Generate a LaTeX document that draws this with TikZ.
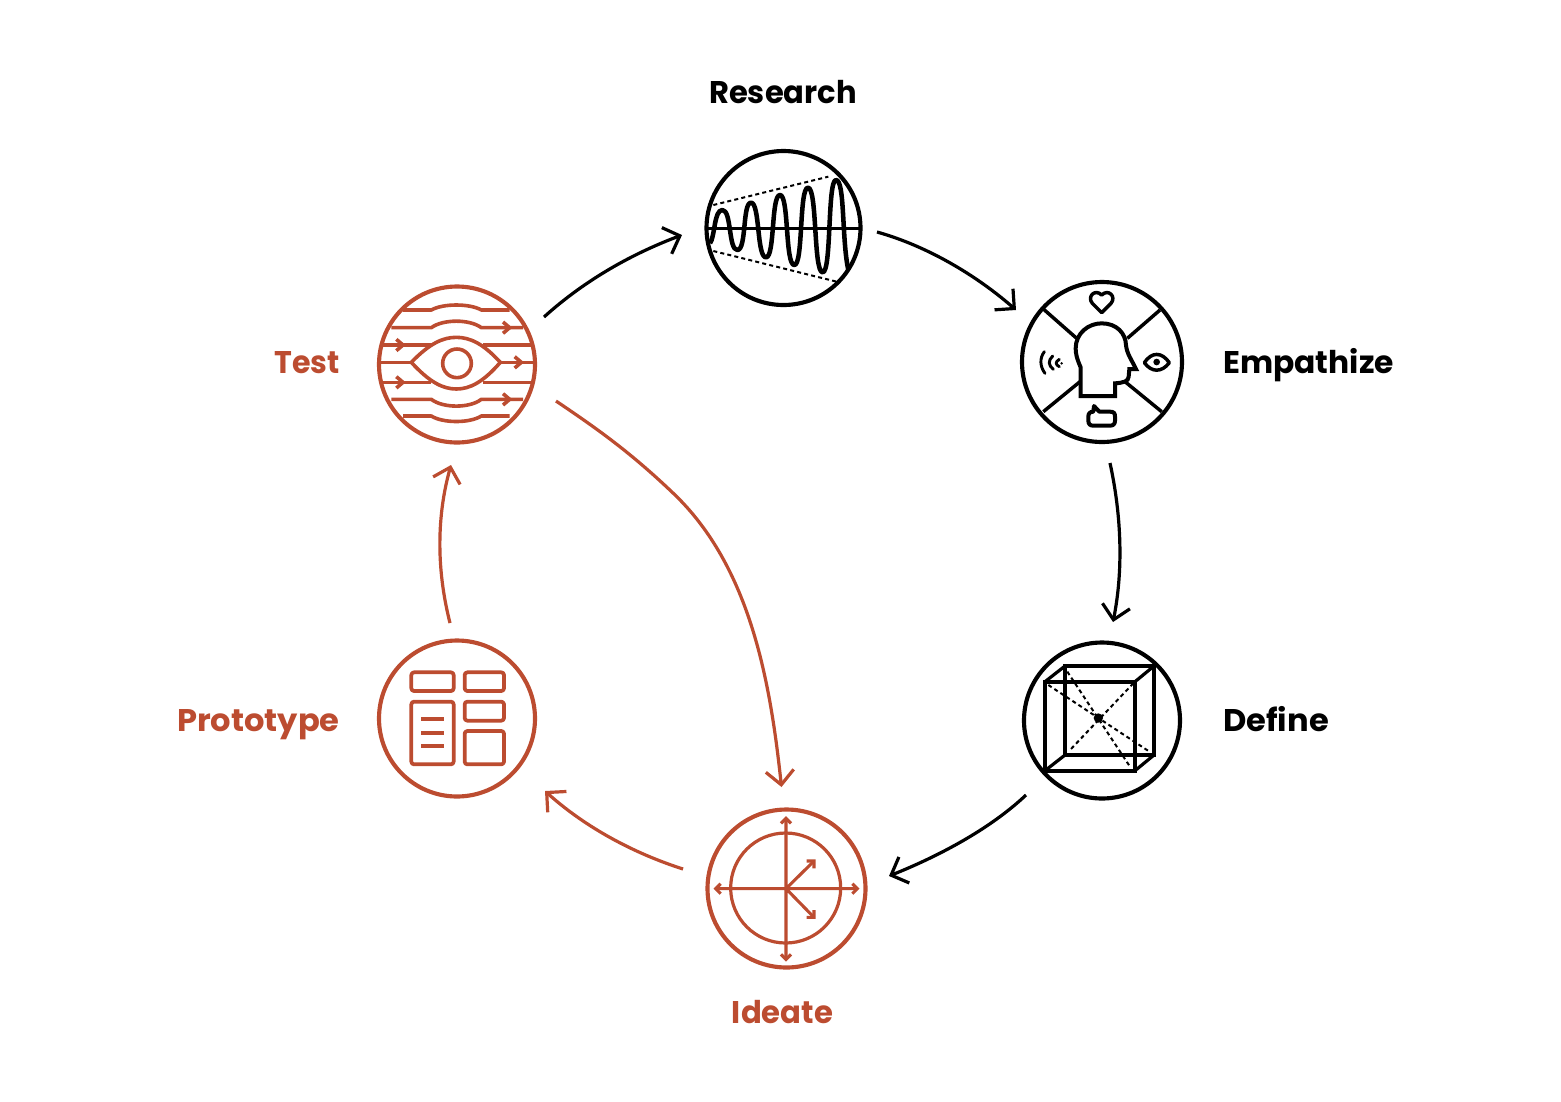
\documentclass[tikz,border=0pt]{standalone}
\usepackage{fontspec}
\usepackage{graphicx}
\setmainfont{Poppins}
\usetikzlibrary{arrows.meta}
\definecolor{acc}{HTML}{BC4C30}
\tikzset{
  x=.75pt,y=-.75pt,
  ring/.style={circle,draw,line width=3.1pt,inner sep=0pt,minimum size=#1*1.5pt},
  lbl/.style={font=\bfseries\fontsize{23.5}{28}\selectfont,inner sep=0pt},
  conn/.style={line width=2.4pt,-{Straight Barb[length=10.5pt,width=21pt,line width=2.4pt]}},
  icon/.style={shift={#1},x=.25pt,y=-.25pt,line join=round},
  ico/.style={line width=2.6pt},
  thin dash/.style={line width=1.5pt,dash pattern=on 3pt off 2.4pt},
}
\begin{document}
\begin{tikzpicture}
\useasboundingbox (0,0) rectangle (1561,1101);
% nodes
\node[ring=77] (research) at (783.5,228) {};
\node[ring=80] (empathize) at (1102,362) {};
\node[ring=78] (define) at (1102,720.5) {};
\node[ring=79,draw=acc] (ideate) at (786.5,888.5) {};
\node[ring=78,draw=acc] (prototype) at (457,718.5) {};
\node[ring=78,draw=acc] (test) at (457,364.5) {};
% labels
\node[lbl,anchor=base] (lresearch) at (783,103) {\scalebox{.976}[1]{Research}};
\node[lbl,anchor=base west] (lempathize) at (1223,373) {Empathize};
\node[lbl,anchor=base west] (ldefine) at (1223,731) {\scalebox{1.024}[1]{Define}};
\node[lbl,anchor=base,text=acc] (lideate) at (782.5,1023) {\scalebox{.98}[1]{Ideate}};
\node[lbl,anchor=base east,text=acc] (lprototype) at (340,731) {\scalebox{1.025}[1]{Prototype}};
\node[lbl,anchor=base east,text=acc] (ltest) at (340,373) {\scalebox{.96}[1]{Test}};
% connectors
\draw[conn] ([shift={(87,-47.5)}]test.center) .. controls +(42,-38) and +(-48,18) .. ([shift={(-101.5,7)}]research.center);
\draw[conn] ([shift={(93.5,4)}]research.center) .. controls +(50,14) and +(-40,-35) .. ([shift={(-86,-52)}]empathize.center);
\draw[conn] ([shift={(8,101)}]empathize.center) .. controls +(12,55) and +(10,-50) .. ([shift={(11,-98.5)}]define.center);
\draw[conn] ([shift={(-76,74.5)}]define.center) .. controls +(-38,36) and +(45,-18) .. ([shift={(102.5,-12.5)}]ideate.center);
\draw[conn,draw=acc] ([shift={(-103.5,-19.5)}]ideate.center) .. controls +(-50,-16) and +(40,36) .. ([shift={(88,72.5)}]prototype.center);
\draw[conn,draw=acc] ([shift={(-7,-95.5)}]prototype.center) .. controls +(-14,-55) and +(-14,50) .. ([shift={(-6,100.5)}]test.center);
\draw[conn,draw=acc] ([shift={(99,36.5)}]test.center) .. controls +(40,27) and +(-44,-42) .. ([shift={(216,128.5)}]test.center) .. controls +(78,74) and +(-11,-103) .. ([shift={(-5,-101.5)}]ideate.center);
% Research icon
\begin{scope}[icon={(690,140)}]
\draw[line width=2.2pt] (45,265) -- (517,265);
\draw[line width=3.4pt] (60,310) .. controls (75,290) and (72,210) .. (97,210) .. controls (125,210) and (115,330) .. (142,330) .. controls (170,330) and (157,188) .. (183,188) .. controls (210,188) and (200,352) .. (228,352) .. controls (255,352) and (243,165) .. (270,165) .. controls (297,165) and (285,375) .. (313,375) .. controls (340,375) and (327,143) .. (354,143) .. controls (382,143) and (370,397) .. (398,397) .. controls (425,397) and (412,120) .. (438,120) .. controls (465,120) and (455,300) .. (475,390);
\draw[thin dash] (70,195) -- (415,110);
\draw[thin dash] (70,333) -- (440,425);
\end{scope}
% Empathize icon
\begin{scope}[icon={(1010,270)}]
\draw[ico] (100,117) -- (200,205) (450,120) -- (352,205) (100,425) -- (210,335) (455,425) -- (345,335);
\draw[line width=3pt,line join=miter] (212,378) -- (212,292) .. controls (200,265) and (197,250) .. (197,235) .. controls (197,190) and (235,160) .. (275,160) .. controls (320,160) and (347,190) .. (348,225) .. controls (350,250) and (365,270) .. (378,297) -- (358,297) -- (356,320) .. controls (355,335) and (340,338) .. (315,340) -- (315,378) -- cycle;
\draw[ico] (275,128) -- (247,100) .. controls (230,80) and (255,55) .. (275,75) .. controls (295,55) and (320,80) .. (303,100) -- cycle;
\draw[ico] (403,278) .. controls (425,245) and (455,245) .. (478,278) .. controls (455,308) and (425,308) .. (403,278) -- cycle;
\fill (440,276) circle (10);
\draw[line width=2.2pt,line cap=round] (103,245) .. controls (88,265) and (90,290) .. (105,310);
\draw[line width=2.2pt,line cap=round] (128,258) .. controls (114,272) and (114,285) .. (130,298);
\draw[line width=2.2pt,line cap=round] (148,268) .. controls (135,276) and (136,284) .. (148,290);
\fill (155,280) circle (4);
\draw[line width=3pt] (250,425) -- (252,408) -- (268,425) -- (300,425) .. controls (312,425) and (315,430) .. (315,440) -- (315,452) .. controls (315,462) and (310,467) .. (300,467) -- (250,467) .. controls (240,467) and (235,462) .. (235,452) -- (235,440) .. controls (235,430) and (240,425) .. (250,425) -- cycle;
\end{scope}
% Define icon
\begin{scope}[icon={(1010,630)}]
\draw[line width=3.2pt,line join=miter] (105,155) rectangle (375,422);
\draw[line width=3.2pt,line join=miter] (165,108) rectangle (432,375);
\draw[line width=2.4pt] (105,155) -- (165,108) (375,155) -- (432,108) (105,422) -- (165,375) (375,422) -- (432,375);
\draw[thin dash] (115,165) -- (420,366) (172,125) -- (360,410) (370,160) -- (180,360);
\fill (265,264) circle (14);
\end{scope}
% Ideate icon
\begin{scope}[icon={(695,800)},draw=acc]
\node[circle,draw=acc,line width=2.4pt,inner sep=0pt,minimum size=82.5pt] (ideatein) at (272,264) {};
\draw[line width=2.3pt,draw=acc] (273,55) -- (273,478) (62,266) -- (487,266) (273,266) -- (357,183) (273,266) -- (357,352);
\draw[line width=2.3pt,draw=acc,line join=miter] (258,70) -- (273,55) -- (288,70) (258,463) -- (273,478) -- (288,463) (77,251) -- (62,266) -- (77,281) (472,251) -- (487,266) -- (472,281) (335,183) -- (357,183) -- (357,205) (335,352) -- (357,352) -- (357,330);
\end{scope}
% Prototype icon
\begin{scope}[icon={(368,630)},rounded corners=2pt]
\draw[line width=2.8pt,draw=acc] (130,127) rectangle (257,183);
\draw[line width=2.8pt,draw=acc] (290,127) rectangle (408,183);
\draw[line width=2.8pt,draw=acc] (130,215) rectangle (257,403);
\draw[line width=2.8pt,draw=acc] (290,215) rectangle (408,272);
\draw[line width=2.8pt,draw=acc] (290,303) rectangle (408,403);
\draw[line width=2.8pt,draw=acc,sharp corners] (160,267) -- (228,267) (160,308) -- (228,308) (160,349) -- (228,349);
\end{scope}
% Test icon
\begin{scope}[icon={(368,275)}]
\begin{scope}[line width=2.7pt,draw=acc]
\draw (105,105) -- (190,105) .. controls (225,85) and (305,85) .. (340,105) -- (425,105);
\draw (70,158) -- (190,158) .. controls (225,132) and (305,132) .. (340,158) -- (465,158);
\draw (45,210) -- (190,210) (345,210) -- (490,210);
\draw (35,262) -- (130,262) (397,262) -- (497,262);
\draw (45,322) -- (190,322) (345,322) -- (490,322);
\draw (70,373) -- (190,373) .. controls (225,400) and (305,400) .. (340,373) -- (465,373);
\draw (105,423) -- (190,423) .. controls (225,445) and (305,445) .. (340,423) -- (425,423);
\draw (130,262) .. controls (185,205) and (225,187) .. (265,187) .. controls (305,187) and (345,205) .. (397,262) .. controls (345,322) and (305,342) .. (265,342) .. controls (225,342) and (185,322) .. (130,262) -- cycle;
\draw (267,265) circle (43);
\draw[line join=miter] (405,141) -- (425,158) -- (405,175) (85,193) -- (105,210) -- (85,227) (440,245) -- (460,262) -- (440,279) (85,305) -- (105,322) -- (85,339) (405,356) -- (425,373) -- (405,390);
\end{scope}
\end{scope}
\end{tikzpicture}
\end{document}
